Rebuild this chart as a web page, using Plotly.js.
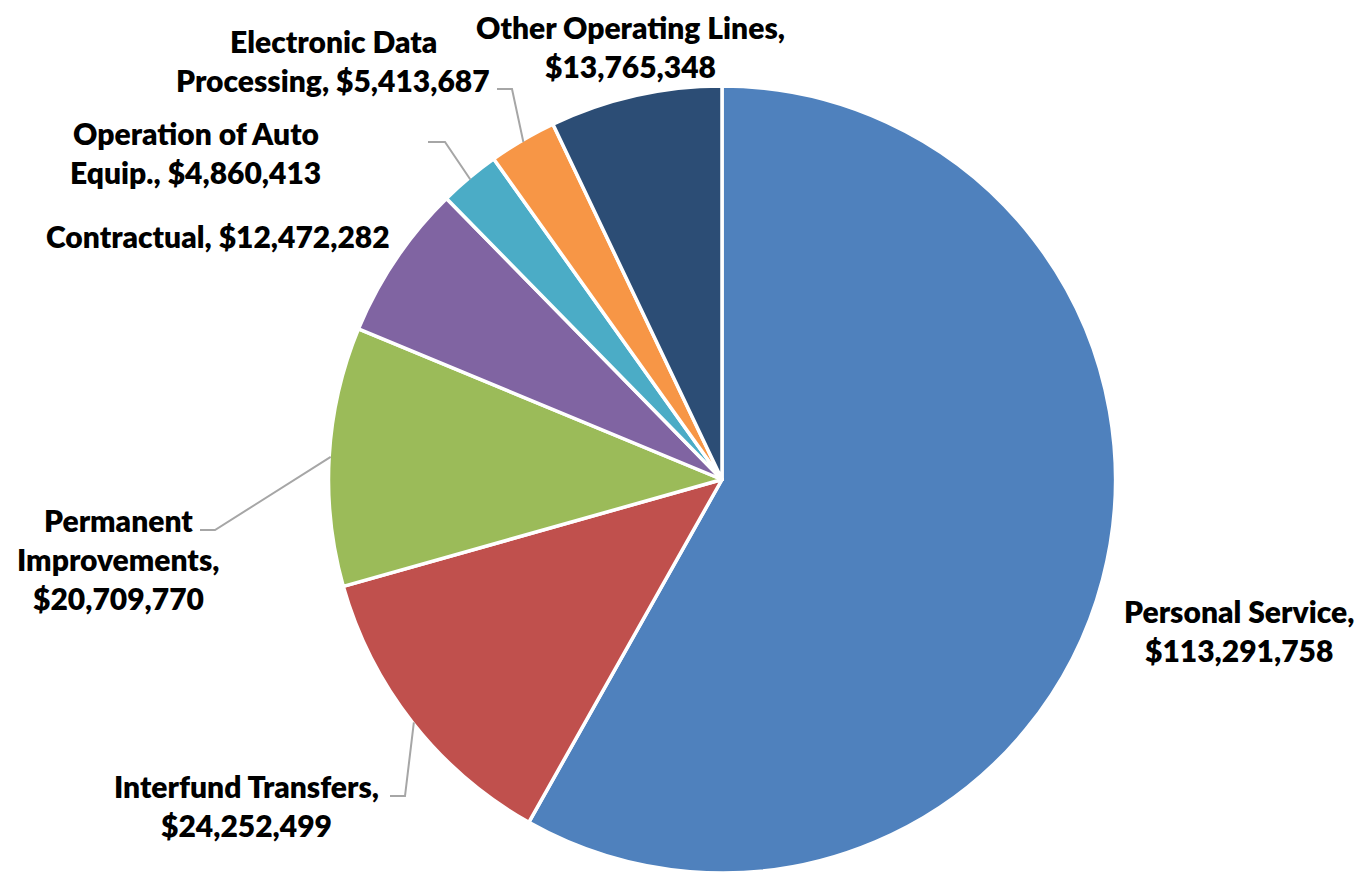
<!DOCTYPE html>
<html>
<head>
<meta charset="utf-8">
<script src="https://cdn.plot.ly/plotly-3.0.1.min.js"></script>
<style>html,body{margin:0;padding:0;background:#fff;}#chart{width:1358px;height:873px;}</style>
</head>
<body>
<div id="chart"></div>
<script>
// ---- data ----
var categories = ["Personal Service", "Interfund Transfers", "Permanent Improvements", "Contractual",
                  "Operation of Auto Equip.", "Electronic Data Processing", "Other Operating Lines"];
var values = [113291758, 24252499, 20709770, 12472282, 4860413, 5413687, 13765348];
var colors = ["#4F81BD", "#C0504D", "#9BBB59", "#8064A2", "#4BACC6", "#F79646", "#2C4D75"];
// label line breaks as displayed
var labelLines = [
  ["Personal Service,", "$113,291,758"],
  ["Interfund Transfers,", "$24,252,499"],
  ["Permanent", "Improvements,", "$20,709,770"],
  ["Contractual, $12,472,282"],
  ["Operation of Auto", "Equip., $4,860,413"],
  ["Electronic Data", "Processing, $5,413,687"],
  ["Other Operating Lines,", "$13,765,348"]
];

// ---- layout helpers (pixel positions of label blocks) ----
var W = 1358, H = 873;
var CX = 722, CY = 480, R = 392;
var labelPos = [  // [center x, first line center y]
  [1239, 611], [246, 786], [118, 520], [218, 236], [196, 133], [333, 41], [630, 27]
];
var lineGap = 39;
// leader elbows: [start x, y, elbow x] or null
var leaders = [null, [390, 796, 405], [200, 530, 215], null, [428, 142, 445], [497, 89, 512], null];

function px(x){ return x / W; }
function py(y){ return 1 - y / H; }

var total = values.reduce(function(a,b){return a+b;}, 0);
var annotations = [], shapes = [];
var cum = 0;
values.forEach(function(v, i){
  var mid = (cum + v/2) / total * 2 * Math.PI;
  cum += v;
  var ax = CX + R*Math.sin(mid), ay = CY - R*Math.cos(mid);
  labelLines[i].forEach(function(t, j){
    annotations.push({
      text: t, xref:'paper', yref:'paper', showarrow:false,
      x: px(labelPos[i][0]), y: py(labelPos[i][1] + j*lineGap),
      xanchor:'center', yanchor:'middle',
      font:{family:'Lato, "Open Sans", sans-serif', size:30, color:'#000', weight:800}
    });
  });
  var L = leaders[i];
  if (L) {
    shapes.push({
      type:'path', xref:'paper', yref:'paper',
      path: 'M ' + px(L[0]) + ' ' + py(L[1]) + ' L ' + px(L[2]) + ' ' + py(L[1]) + ' L ' + px(ax) + ' ' + py(ay),
      line:{color:'#A6A6A6', width:2}
    });
  }
});

var trace = {
  type:'pie', labels: categories, values: values, sort:false, direction:'clockwise', rotation:0,
  marker:{colors: colors, line:{color:'#ffffff', width:3.5}},
  textinfo:'none', hoverinfo:'label+value', showlegend:false,
  domain:{x:[px(CX-R-2), px(CX+R+2)], y:[py(CY+R+2), py(CY-R-2)]}
};

var layout = {
  width: W, height: H, margin:{l:0,r:0,t:0,b:0},
  paper_bgcolor:'#fff', plot_bgcolor:'#fff', showlegend:false,
  annotations: annotations, shapes: shapes
};
Plotly.newPlot('chart', [trace], layout, {displayModeBar:false, staticPlot:true});
</script>
</body>
</html>
